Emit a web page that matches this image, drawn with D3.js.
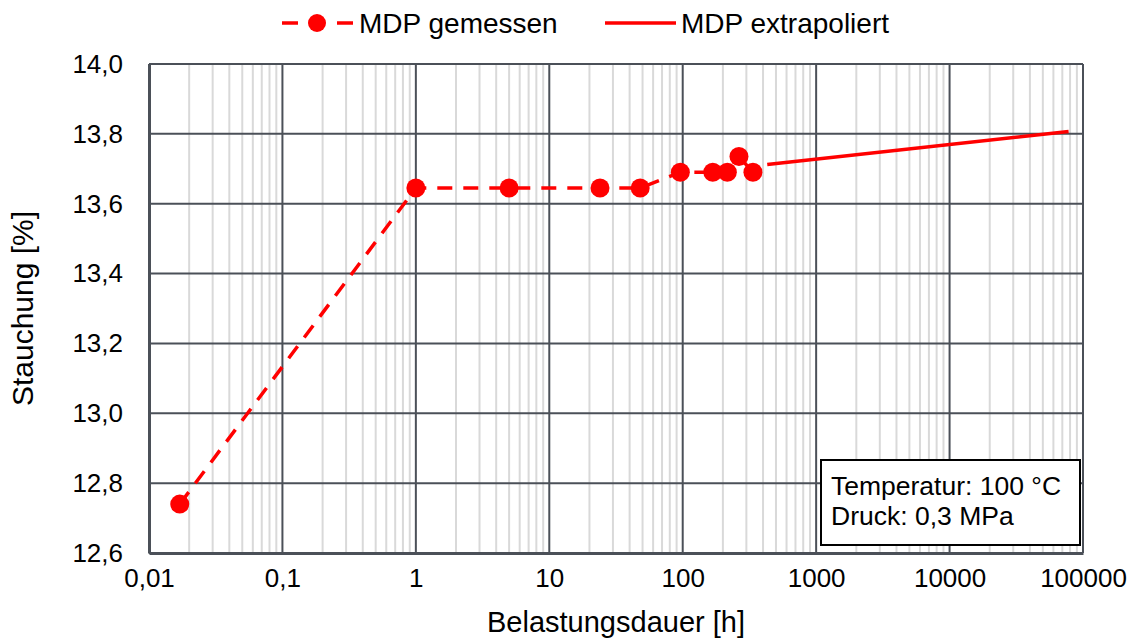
<!DOCTYPE html>
<html>
<head>
<meta charset="utf-8">
<script src="https://cdn.jsdelivr.net/npm/d3@7"></script>
<style>
  html, body { margin: 0; padding: 0; background: #fff; }
  svg { display: block; font-family: "Liberation Sans", Arial, sans-serif; }
</style>
</head>
<body>
<svg id="chart" width="1136" height="641"></svg>
<script>
// Measured creep (Stauchung) of MDP vs. load duration
const measuredHours  = [0.017, 1, 5, 24, 48, 96, 168, 216, 264, 336];
const measuredStrain = [12.74, 13.645, 13.645, 13.645, 13.645, 13.69, 13.69, 13.69, 13.735, 13.69];

// Extrapolated trend (straight in log-time)
const extrapHours  = [430, 78000];
const extrapStrain = [13.712, 13.807];

const xTickValues = [0.01, 0.1, 1, 10, 100, 1000, 10000, 100000];
const xTickLabels = ["0,01", "0,1", "1", "10", "100", "1000", "10000", "100000"];
const yTickValues = [12.6, 12.8, 13.0, 13.2, 13.4, 13.6, 13.8, 14.0];
const yTickLabels = ["12,6", "12,8", "13,0", "13,2", "13,4", "13,6", "13,8", "14,0"];

const legendLabels = ["MDP gemessen", "MDP extrapoliert"];
const infoLines = ["Temperatur: 100 °C", "Druck: 0,3 MPa"];

const svg = d3.select("#chart");
const margin = { left: 149, right: 1083, top: 64, bottom: 553 };
const RED = "#ff0000";
const MAJOR = "#4b5058";
const MINOR = "#d9d9d9";
const FONT = "Liberation Sans, Arial, sans-serif";

const x = d3.scaleLog().domain([0.01, 100000]).range([margin.left, margin.right]);
const y = d3.scaleLinear().domain([12.6, 14.0]).range([margin.bottom, margin.top]);

// minor grid (2..9 within each decade)
const minor = [];
for (let e = -2; e < 5; e++) {
  for (let m = 2; m <= 9; m++) minor.push(m * Math.pow(10, e));
}
svg.append("g").selectAll("line").data(minor).join("line")
  .attr("x1", d => x(d)).attr("x2", d => x(d))
  .attr("y1", margin.top).attr("y2", margin.bottom)
  .attr("stroke", MINOR).attr("stroke-width", 2);

// major grid
svg.append("g").selectAll("line").data(xTickValues).join("line")
  .attr("x1", d => x(d)).attr("x2", d => x(d))
  .attr("y1", margin.top).attr("y2", margin.bottom)
  .attr("stroke", MAJOR).attr("stroke-width", 2);
svg.append("g").selectAll("line").data(yTickValues).join("line")
  .attr("x1", margin.left).attr("x2", margin.right)
  .attr("y1", d => y(d)).attr("y2", d => y(d))
  .attr("stroke", MAJOR).attr("stroke-width", 2);

// axes (labels only, lines come from the grid)
const xAxis = d3.axisBottom(x).tickValues(xTickValues)
  .tickFormat((d, i) => xTickLabels[i]).tickSize(0).tickPadding(16);
const gx = svg.append("g").attr("transform", `translate(0,${margin.bottom})`).call(xAxis);
gx.select(".domain").attr("stroke", MAJOR).attr("stroke-width", 3);
gx.selectAll("text").attr("font-size", 26).attr("fill", "#000").attr("font-family", FONT);

const yAxis = d3.axisLeft(y).tickValues(yTickValues)
  .tickFormat((d, i) => yTickLabels[i]).tickSize(0).tickPadding(26);
const gy = svg.append("g").attr("transform", `translate(${margin.left},0)`).call(yAxis);
gy.select(".domain").attr("stroke", MAJOR).attr("stroke-width", 3);
gy.selectAll("text").attr("font-size", 26).attr("fill", "#000").attr("font-family", FONT);

// axis titles
svg.append("text").attr("x", (margin.left + margin.right) / 2).attr("y", 632)
  .attr("text-anchor", "middle").attr("font-size", 29).text("Belastungsdauer [h]");
svg.append("text")
  .attr("transform", `translate(33,${(margin.top + margin.bottom) / 2}) rotate(-90)`)
  .attr("text-anchor", "middle").attr("font-size", 30).text("Stauchung [%]");

// measured series
const measured = measuredHours.map((h, i) => [h, measuredStrain[i]]);
const extrap = extrapHours.map((h, i) => [h, extrapStrain[i]]);
const line = d3.line().x(d => x(d[0])).y(d => y(d[1]));

svg.append("path").datum(measured).attr("d", line)
  .attr("fill", "none").attr("stroke", RED).attr("stroke-width", 3.5)
  .attr("stroke-dasharray", "15,11");
svg.append("g").selectAll("circle").data(measured).join("circle")
  .attr("cx", d => x(d[0])).attr("cy", d => y(d[1])).attr("r", 9.5)
  .attr("fill", RED);

svg.append("path").datum(extrap).attr("d", line)
  .attr("fill", "none").attr("stroke", RED).attr("stroke-width", 3.5);

// legend
const lg = svg.append("g");
lg.append("line").attr("x1", 282).attr("x2", 353).attr("y1", 23).attr("y2", 23)
  .attr("stroke", RED).attr("stroke-width", 3.5).attr("stroke-dasharray", "16,39,16");
lg.append("circle").attr("cx", 317).attr("cy", 23).attr("r", 9).attr("fill", RED);
lg.append("text").attr("x", 359).attr("y", 33).attr("font-size", 28).text(legendLabels[0]);
lg.append("line").attr("x1", 605).attr("x2", 676).attr("y1", 23).attr("y2", 23)
  .attr("stroke", RED).attr("stroke-width", 3.5);
lg.append("text").attr("x", 681).attr("y", 33).attr("font-size", 28).text(legendLabels[1]);

// condition box
const box = svg.append("g");
box.append("rect").attr("x", 821).attr("y", 460).attr("width", 259).attr("height", 85)
  .attr("fill", "#fff").attr("stroke", "#000").attr("stroke-width", 2);
box.selectAll("text").data(infoLines).join("text")
  .attr("x", 831).attr("y", (d, i) => 495 + i * 30)
  .attr("font-size", 26.5).text(d => d);
</script>
</body>
</html>
